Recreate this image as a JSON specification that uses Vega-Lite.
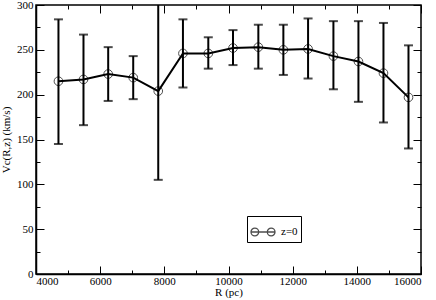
{
  "$schema": "https://vega.github.io/schema/vega-lite/v6.json",
  "width": 385,
  "height": 269,
  "autosize": {"type": "none"},
  "padding": {"left": 36, "top": 5, "right": 15, "bottom": 26},
  "background": "white",
  "config": {
    "font": "Liberation Serif, Times New Roman, serif",
    "view": {"stroke": "black", "strokeWidth": 1.5},
    "legend": {"labelFont": "Liberation Serif, Times New Roman, serif"},
    "axis": {
      "grid": false,
      "domainColor": "black",
      "domainWidth": 1.5,
      "tickColor": "black",
      "tickWidth": 1,
      "labelFont": "Liberation Serif, Times New Roman, serif",
      "labelFontSize": 11,
      "labelColor": "black",
      "titleFont": "Liberation Serif, Times New Roman, serif",
      "titleFontSize": 11,
      "titleFontWeight": "normal",
      "titleColor": "black"
    }
  },
  "data": {
    "values": [
      {"R": 4700, "V": 215, "lo": 145, "hi": 284},
      {"R": 5480, "V": 217, "lo": 166, "hi": 267},
      {"R": 6250, "V": 223, "lo": 193, "hi": 253},
      {"R": 7030, "V": 219, "lo": 195, "hi": 243},
      {"R": 7810, "V": 204, "lo": 105, "hi": 303},
      {"R": 8580, "V": 246, "lo": 208, "hi": 284},
      {"R": 9370, "V": 246, "lo": 229, "hi": 264},
      {"R": 10140, "V": 252, "lo": 233, "hi": 272},
      {"R": 10930, "V": 253, "lo": 229, "hi": 278},
      {"R": 11710, "V": 250, "lo": 222, "hi": 278},
      {"R": 12480, "V": 251, "lo": 218, "hi": 285},
      {"R": 13270, "V": 243, "lo": 206, "hi": 282},
      {"R": 14050, "V": 237, "lo": 192, "hi": 282},
      {"R": 14830, "V": 224, "lo": 169, "hi": 280},
      {"R": 15610, "V": 197, "lo": 140, "hi": 255}
    ]
  },
  "resolve": {"axis": {"x": "independent", "y": "independent"}},
  "layer": [
    {
      "mark": {"type": "rule", "color": "black", "strokeWidth": 2, "clip": true},
      "encoding": {
        "x": {
          "field": "R", "type": "quantitative",
          "scale": {"domain": [4000, 16000], "nice": false, "zero": false},
          "axis": {
            "orient": "bottom",
            "title": "R (pc)",
            "values": [4000, 5000, 6000, 7000, 8000, 9000, 10000, 11000, 12000, 13000, 14000, 15000, 16000],
            "labelExpr": "datum.value % 2000 === 0 ? datum.value : ''",
            "tickSize": {"expr": "datum.value % 2000 === 0 ? -8 : -4"},
            "labelPadding": 9,
            "titlePadding": 0
          }
        },
        "y": {
          "field": "lo", "type": "quantitative",
          "scale": {"domain": [0, 300], "nice": false},
          "axis": {
            "orient": "left",
            "title": "Vc(R,z) (km/s)",
            "values": [0, 25, 50, 75, 100, 125, 150, 175, 200, 225, 250, 275, 300],
            "labelExpr": "datum.value % 50 === 0 ? datum.value : ''",
            "tickSize": {"expr": "datum.value % 50 === 0 ? -8 : -4"},
            "labelPadding": 11,
            "titlePadding": 5
          }
        },
        "y2": {"field": "hi"}
      }
    },
    {
      "mark": {"type": "tick", "orient": "horizontal", "color": "black", "size": 9, "thickness": 2, "clip": true},
      "encoding": {
        "x": {
          "field": "R", "type": "quantitative",
          "axis": {
            "orient": "top", "title": null, "labels": false, "domain": false,
            "values": [4000, 5000, 6000, 7000, 8000, 9000, 10000, 11000, 12000, 13000, 14000, 15000, 16000],
            "tickSize": {"expr": "datum.value % 2000 === 0 ? -8 : -4"}
          }
        },
        "y": {
          "field": "lo", "type": "quantitative",
          "axis": {
            "orient": "right", "title": null, "labels": false, "domain": false,
            "values": [0, 25, 50, 75, 100, 125, 150, 175, 200, 225, 250, 275, 300],
            "tickSize": {"expr": "datum.value % 50 === 0 ? -8 : -4"}
          }
        }
      }
    },
    {
      "mark": {"type": "tick", "orient": "horizontal", "color": "black", "size": 9, "thickness": 2, "clip": true},
      "encoding": {
        "x": {"field": "R", "type": "quantitative", "axis": null},
        "y": {"field": "hi", "type": "quantitative", "axis": null}
      }
    },
    {
      "mark": {"type": "line", "color": "black", "strokeWidth": 2},
      "encoding": {
        "x": {"field": "R", "type": "quantitative", "axis": null},
        "y": {"field": "V", "type": "quantitative", "axis": null}
      }
    },
    {
      "mark": {"type": "point", "filled": false, "shape": "circle", "size": 75, "strokeWidth": 1},
      "encoding": {
        "x": {"field": "R", "type": "quantitative", "axis": null},
        "y": {"field": "V", "type": "quantitative", "axis": null},
        "color": {
          "datum": "z=0",
          "type": "nominal",
          "scale": {"range": ["black"]},
          "legend": {
            "orient": "none",
            "legendX": 211,
            "legendY": 211,
            "title": null,
            "strokeColor": "black",
            "fillColor": "white",
            "padding": 3,
            "symbolType": "M-1,0L1,0M-1,0A0.32,0.32 0 1,1 -0.36,0A0.32,0.32 0 1,1 -1,0M0.36,0A0.32,0.32 0 1,1 1,0A0.32,0.32 0 1,1 0.36,0",
            "symbolSize": 576,
            "symbolStrokeWidth": 1.3,
            "symbolFillColor": "transparent",
            "labelFont": "Liberation Serif, Times New Roman, serif",
            "labelFontSize": 11,
            "labelColor": "black",
            "labelOffset": 5
          }
        }
      }
    }
  ]
}
